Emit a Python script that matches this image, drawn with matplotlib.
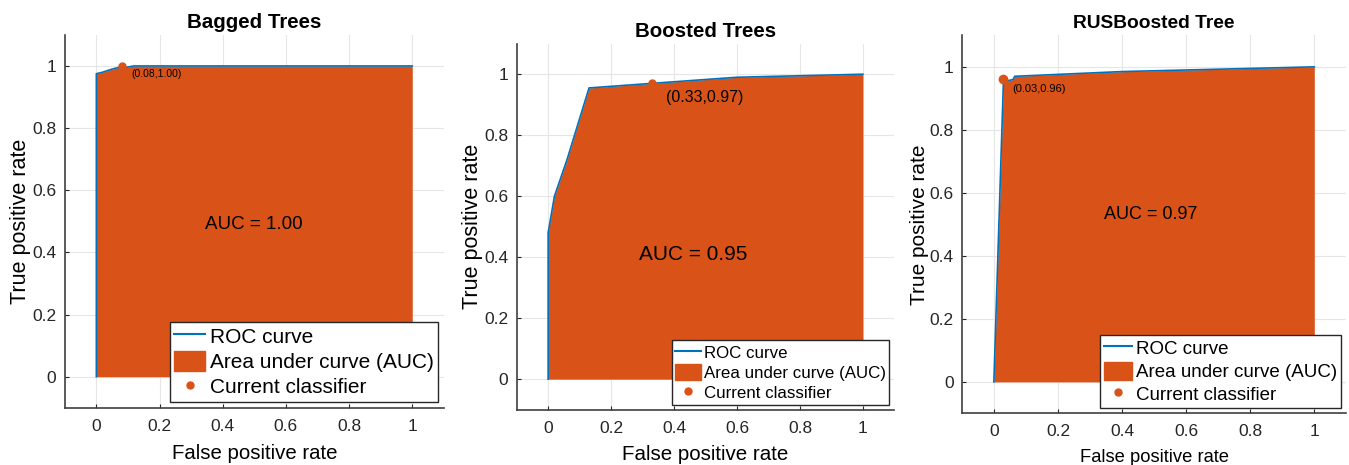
import numpy as np
import matplotlib.pyplot as plt
from matplotlib.patches import Patch
from matplotlib.lines import Line2D

plt.rcParams['font.family'] = ['Liberation Sans', 'DejaVu Sans']

# ROC data
titles = ["Bagged Trees", "Boosted Trees", "RUSBoosted Tree"]

bag_fpr = [0, 0, 0.02, 0.05, 0.07, 0.08, 0.09, 0.12, 1.0]
bag_tpr = [0, 0.975, 0.98, 0.99, 0.995, 1.0, 0.995, 1.0, 1.0]

boost_fpr = [0, 0, 0.02, 0.06, 0.13, 0.33, 0.6, 1.0]
boost_tpr = [0, 0.48, 0.6, 0.72, 0.955, 0.97, 0.99, 1.0]

rus_fpr = [0, 0.03, 0.04, 0.06, 0.065, 0.4, 1.0]
rus_tpr = [0, 0.96, 0.955, 0.96, 0.97, 0.985, 1.0]

points = [(0.08, 1.00), (0.33, 0.97), (0.03, 0.96)]
auc_vals = [1.00, 0.95, 0.97]
auc_pos = [(0.5, 0.49), (0.46, 0.41), (0.49, 0.53)]

blue = '#0072BD'
orange = '#D95319'

# axes boxes in figure fraction
boxes = [[0.048, 0.123, 0.281, 0.802],
         [0.383, 0.119, 0.280, 0.787],
         [0.713, 0.111, 0.285, 0.813]]
title_size = [14.8, 14.8, 13.8]
xlabel_size = [14.7, 14.8, 13.2]
ylabel_size = [15.5, 15.5, 15]
ylabel_pad = [1, 1, 0.5]
auc_size = [13.5, 15, 13]
note_size = [7.5, 11.5, 8]
note_off = [(7, -6), (10, -10), (6.5, -7)]
leg_size = [15, 12.2, 13.5]
mk_size = [5, 5, 6]

fig = plt.figure(figsize=(13.49, 4.65), dpi=100)

curves = [(bag_fpr, bag_tpr), (boost_fpr, boost_tpr), (rus_fpr, rus_tpr)]
for i in range(3):
    ax = fig.add_axes(boxes[i])
    fpr, tpr = curves[i]
    ax.fill_between(fpr, tpr, 0, color=orange, linewidth=0)
    ax.plot(fpr, tpr, color=blue, linewidth=1.2)
    ax.plot(points[i][0], points[i][1], 'o', color=orange, markersize=mk_size[i])
    ax.annotate("(%.2f,%.2f)" % points[i], points[i], xytext=note_off[i],
                textcoords='offset points', fontsize=note_size[i], va='center')
    ax.text(auc_pos[i][0], auc_pos[i][1], "AUC = %.2f" % auc_vals[i],
            ha='center', va='center', fontsize=auc_size[i])

    ax.set_xlim(-0.1, 1.1)
    ax.set_ylim(-0.1, 1.1)
    ax.set_xticks(np.arange(0, 1.01, 0.2))
    ax.set_yticks(np.arange(0, 1.01, 0.2))
    ax.set_xticklabels(['0', '0.2', '0.4', '0.6', '0.8', '1'])
    ax.set_yticklabels(['0', '0.2', '0.4', '0.6', '0.8', '1'])
    ax.tick_params(direction='in', length=3, labelsize=12.5, colors='#262626')
    ax.tick_params(axis='x', pad=8)
    ax.tick_params(axis='y', pad=6)
    ax.grid(True, color='#e6e6e6', linewidth=0.8)
    ax.set_axisbelow(True)
    for s in ['top', 'right']:
        ax.spines[s].set_visible(False)
    for s in ['left', 'bottom']:
        ax.spines[s].set_color('#404040')
        ax.spines[s].set_linewidth(1.2)
    ax.set_xlabel("False positive rate", fontsize=xlabel_size[i], labelpad=7)
    ax.set_ylabel("True positive rate", fontsize=ylabel_size[i], labelpad=ylabel_pad[i])
    ax.set_title(titles[i], fontsize=title_size[i], fontweight='bold', pad=5)

    handles = [Line2D([0], [0], color=blue, linewidth=1.5),
               Patch(facecolor=orange, edgecolor=orange),
               Line2D([0], [0], marker='o', color=orange, linestyle='none', markersize=5)]
    ax.legend(handles, ["ROC curve", "Area under curve (AUC)", "Current classifier"],
              loc='lower right', fontsize=leg_size[i], fancybox=False, framealpha=1,
              edgecolor='#262626', borderpad=0.2, labelspacing=0.2,
              handlelength=1.5, handleheight=1.1, handletextpad=0.2, borderaxespad=0.3)

fig.savefig("out.png", dpi=100)
